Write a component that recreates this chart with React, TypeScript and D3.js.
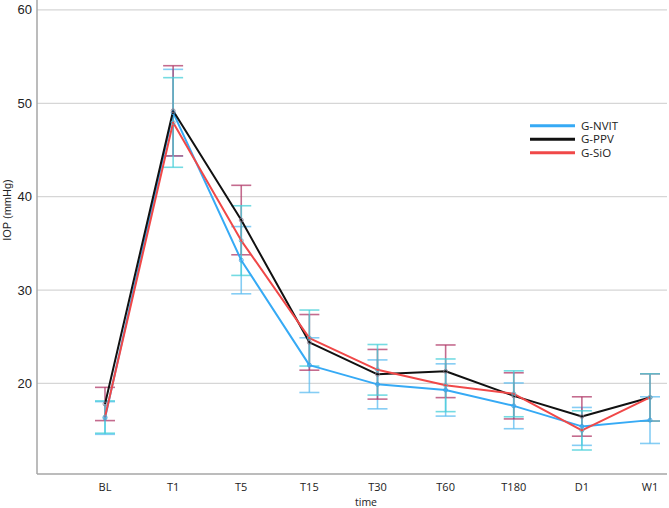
import React from "react";
import * as d3 from "d3";

// Time points on the x axis
const timepoints = ["BL", "T1", "T5", "T15", "T30", "T60", "T180", "D1", "W1"];

// Mean IOP per group (mmHg)
const nvitMean = [16.3, 49.0, 33.2, 21.96, 19.9, 19.3, 17.6, 15.4, 16.07];
const ppvMean = [17.8, 49.2, 37.5, 24.4, 20.98, 21.3, 18.67, 16.46, 18.5];
const sioMean = [16.4, 47.95, 35.3, 24.86, 21.46, 19.8, 18.89, 14.97, 18.5];

// Half-width of the error bars per group (mmHg)
const nvitErr = [1.75, 4.64, 3.6, 2.93, 2.62, 2.8, 2.45, 2.03, 2.5];
const ppvErr = [1.78, 4.83, 3.72, 2.98, 2.66, 2.82, 2.47, 2.11, 2.53];
const sioErr = [1.73, 4.8, 3.73, 3.0, 2.71, 2.82, 2.46, 2.1, 2.53];

// Y axis tick labels
const yTicks = [20, 30, 40, 50, 60];

const seriesNames = ["G-NVIT", "G-PPV", "G-SiO"];

const W = 669;
const H = 508;

export default function App() {
  const x = d3.scalePoint<string>().domain(timepoints).range([105, 650]);
  const y = d3.scaleLinear().domain([10.3, 60.5]).range([474, 5.3]);

  const series = [
    { name: seriesNames[0], mean: nvitMean, err: nvitErr, line: "#36aaf5", bar: "#5cbcf0", dot: "#3a9ee0" },
    { name: seriesNames[1], mean: ppvMean, err: ppvErr, line: "#111111", bar: "#b03a68", dot: "#8a7a90" },
    { name: seriesNames[2], mean: sioMean, err: sioErr, line: "#f04848", bar: "#45cfd8", dot: "#5aaec8" },
  ];

  const line = d3
    .line<number>()
    .x((_, i) => x(timepoints[i]) as number)
    .y((v) => y(v));

  const plotLeft = 37;
  const plotRight = 667;
  const capHalf = 10;
  const labelFont = "Open Sans, Noto Sans, sans-serif";

  return (
    <svg
      width={W}
      height={H}
      style={{ position: "absolute", left: 0, top: 0, background: "#fff" }}
    >
      {/* gridlines */}
      {yTicks.map((t) => (
        <line
          key={"g" + t}
          x1={plotLeft}
          x2={plotRight}
          y1={y(t)}
          y2={y(t)}
          stroke="#d6d6d6"
          strokeWidth={1.3}
        />
      ))}
      {/* axes */}
      <line x1={plotLeft} x2={plotLeft} y1={0} y2={474} stroke="#a6a6a6" strokeWidth={1.5} />
      <line x1={plotLeft} x2={plotRight} y1={474} y2={474} stroke="#a6a6a6" strokeWidth={1.5} />

      {/* y tick labels */}
      {yTicks.map((t) => (
        <text
          key={"yt" + t}
          x={32}
          y={y(t) + 4.5}
          textAnchor="end"
          fontFamily="Liberation Sans, Arial, sans-serif"
          fontSize={13}
          fill="#222"
        >
          {t}
        </text>
      ))}
      <text
        transform={`translate(11, 210) rotate(-90)`}
        textAnchor="middle"
        fontFamily="Liberation Sans, Arial, sans-serif"
        fontSize={11}
        fill="#222"
      >
        IOP (mmHg)
      </text>

      {/* x tick labels */}
      {timepoints.map((c) => (
        <text
          key={"xt" + c}
          x={x(c)}
          y={491}
          textAnchor="middle"
          fontFamily={labelFont}
          fontSize={11}
          fill="#222"
        >
          {c}
        </text>
      ))}
      <text
        x={366}
        y={506}
        textAnchor="middle"
        fontFamily={labelFont}
        fontSize={10.5}
        fill="#222"
      >
        time
      </text>

      {/* error bars */}
      {series.map((s) =>
        s.mean.map((m, i) => {
          const cx = x(timepoints[i]) as number;
          const top = y(m + s.err[i]);
          const bot = y(m - s.err[i]);
          return (
            <g key={s.name + "e" + i} stroke={s.bar} strokeOpacity={0.75} strokeWidth={1.6}>
              <line x1={cx} x2={cx} y1={top} y2={bot} />
              <line x1={cx - capHalf} x2={cx + capHalf} y1={top} y2={top} />
              <line x1={cx - capHalf} x2={cx + capHalf} y1={bot} y2={bot} />
            </g>
          );
        })
      )}

      {/* mean lines */}
      {series.map((s) => (
        <path
          key={s.name + "l"}
          d={line(s.mean) as string}
          fill="none"
          stroke={s.line}
          strokeWidth={2}
          strokeLinejoin="round"
        />
      ))}

      {/* mean markers */}
      {series.map((s) =>
        s.mean.map((m, i) => (
          <circle
            key={s.name + "c" + i}
            cx={x(timepoints[i])}
            cy={y(m)}
            r={2}
            fill="none"
            stroke={s.dot}
            strokeOpacity={0.8}
            strokeWidth={1}
          />
        ))
      )}

      {/* legend */}
      {series.map((s, i) => (
        <g key={s.name + "lg"} transform={`translate(530, ${125.7 + i * 13.5})`}>
          <line x1={0} x2={45} y1={0} y2={0} stroke={s.line} strokeWidth={3} />
          <text x={51} y={4} fontFamily={labelFont} fontSize={11.5} fill="#222">
            {s.name}
          </text>
        </g>
      ))}
    </svg>
  );
}
